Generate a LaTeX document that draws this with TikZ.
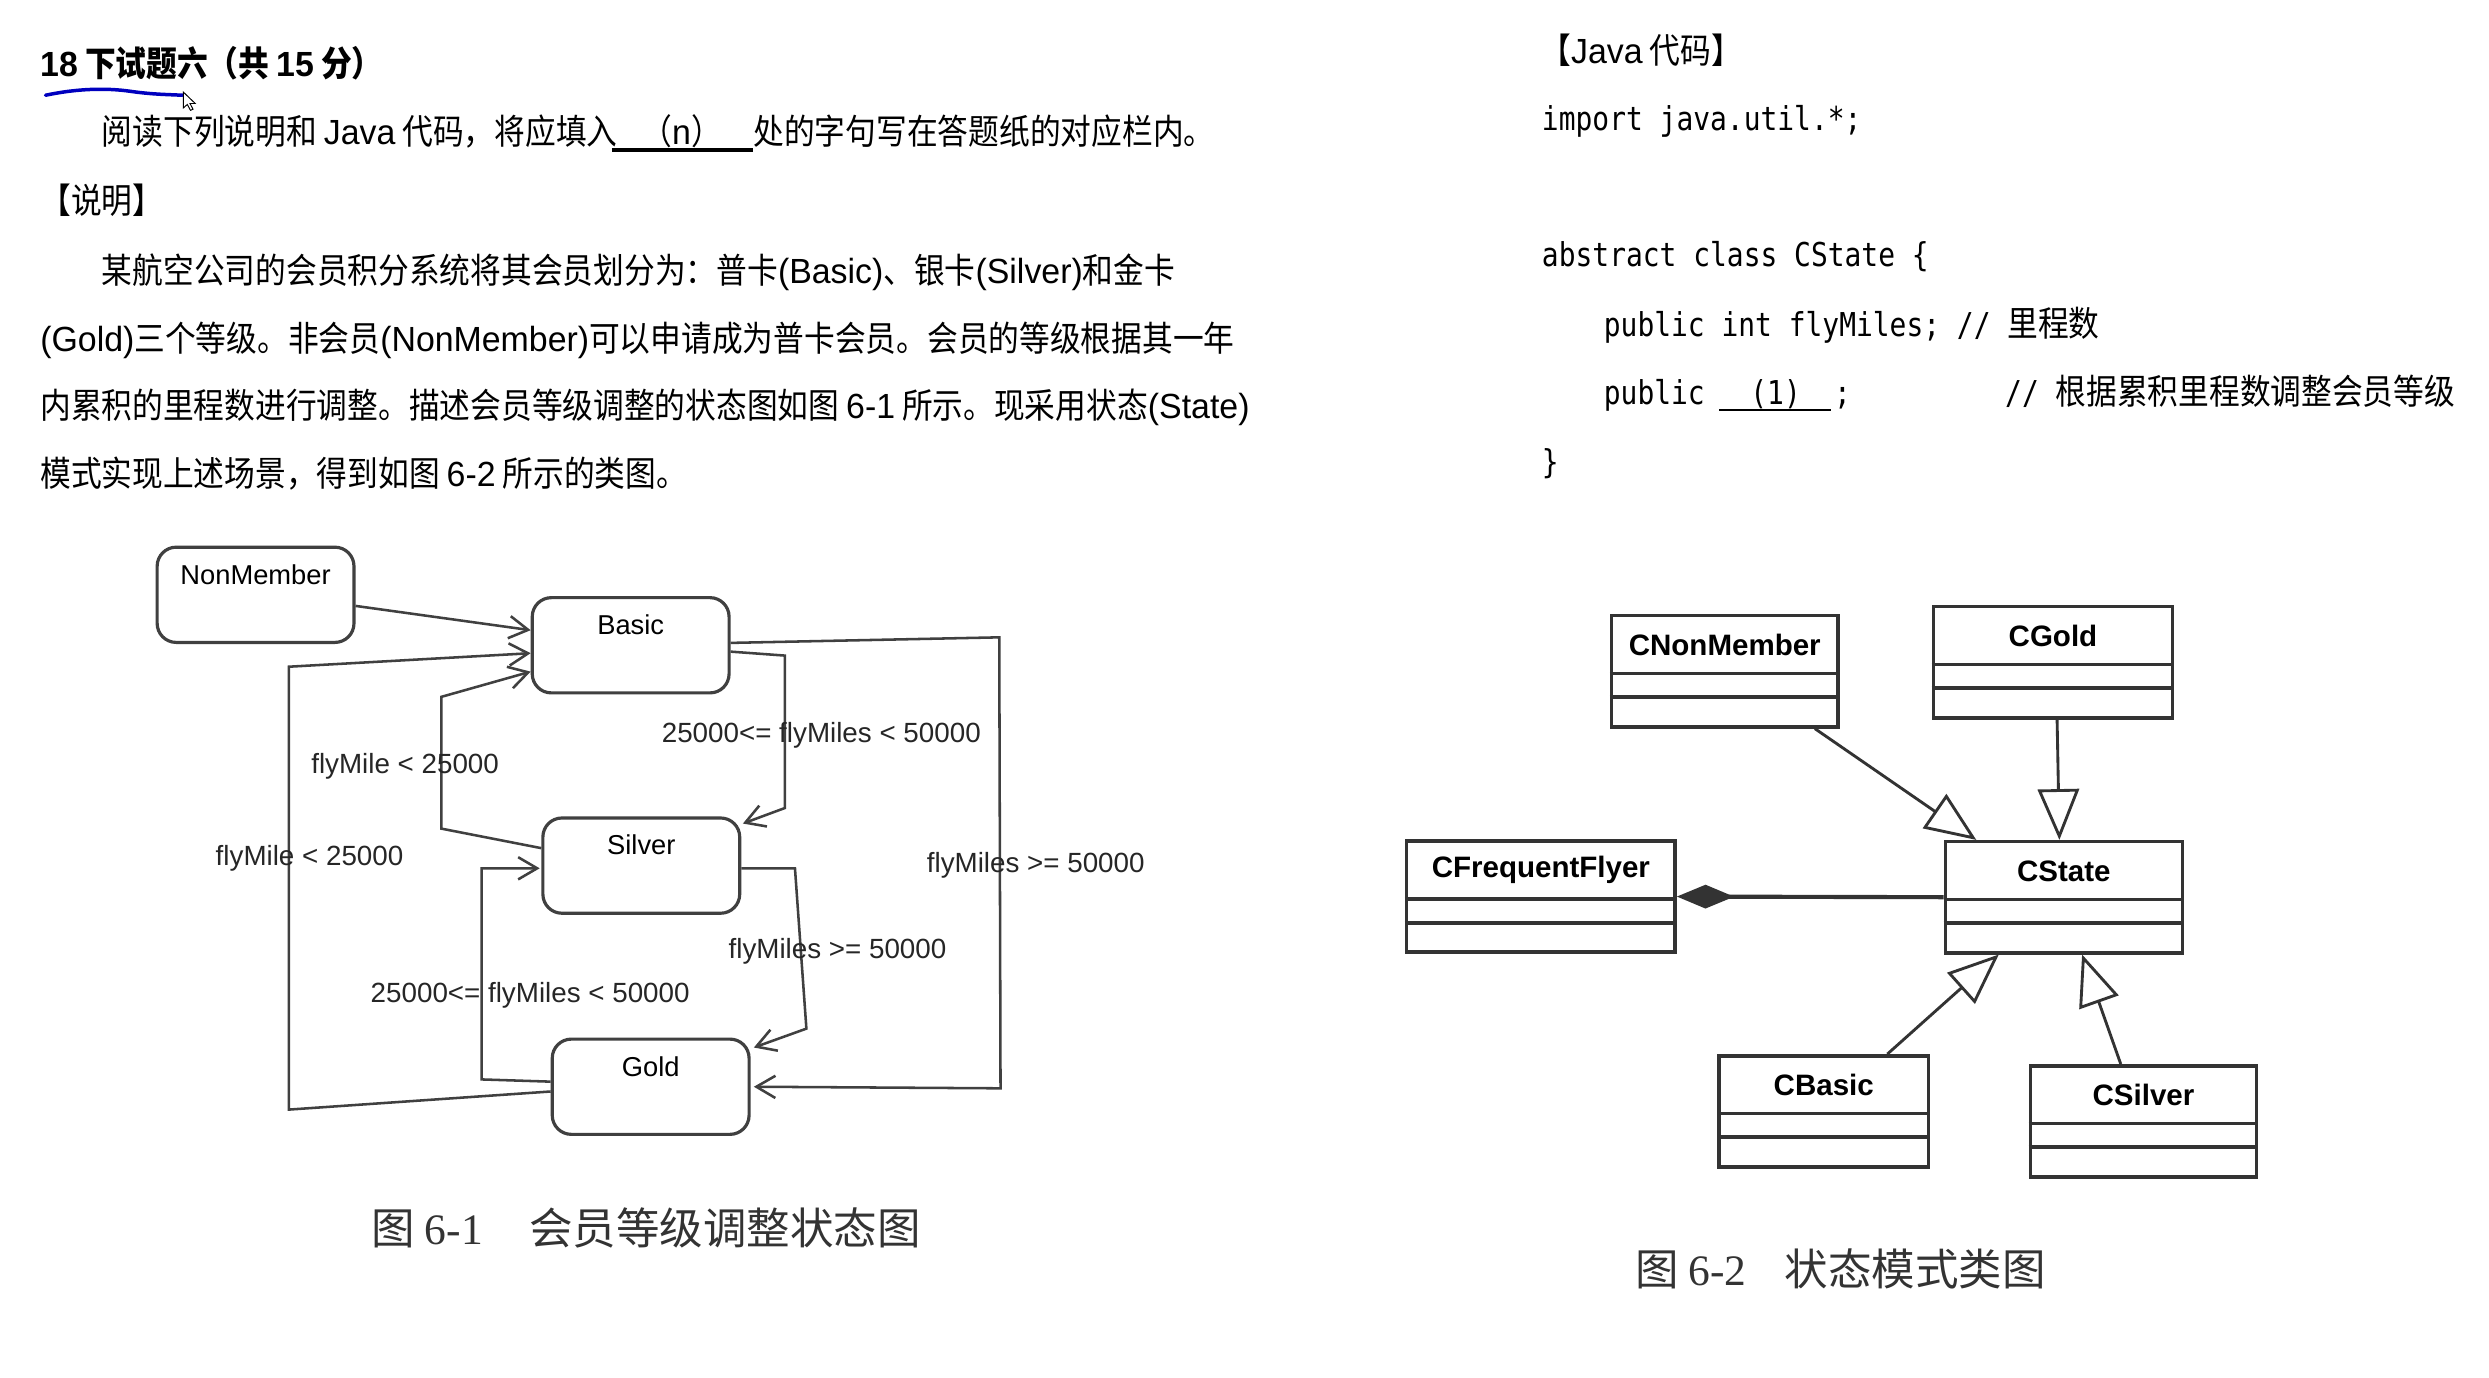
\documentclass[tikz,border=0pt]{standalone}
\usepackage{fontspec}
\newfontfamily\cjk[FakeStretch=0.88]{Noto Sans CJK SC}
\newfontfamily\cjkcap{Noto Sans CJK SC}
\newfontfamily\lat[FakeStretch=0.97]{Liberation Sans}
\newfontfamily\capserif{Liberation Serif}
\newfontfamily\code[FakeStretch=0.85]{DejaVu Sans Mono}
\newfontfamily\umlfont{Liberation Sans}
\usetikzlibrary{calc,arrows.meta,positioning}
\def\bodysize{\fontsize{11pt}{13pt}\selectfont}
\newcommand{\umlclass}[4]{%
	\node[classbox, minimum width=#3] (#1) at (#2) {};
	\draw[classline] ($(#1.north west)+(0,37.5)$) -- ($(#1.north east)+(0,37.5)$);
	\draw[classline] ($(#1.north west)+(0,52.5)$) -- ($(#1.north east)+(0,52.5)$);
	\node[classname] (#1-title) at ($(#1.north)+(0,19.5)$) {#4};
}
\tikzset{
	txt/.style={anchor=base west, inner sep=0, font=\cjk\bodysize},
	codetxt/.style={anchor=base west, inner sep=0, font=\code\fontsize{10.35pt}{12pt}\selectfont},
	state/.style={draw=black!75, line width=1pt, rounded corners=6pt, minimum width=62pt, minimum height=30pt, inner sep=0},
	statename/.style={anchor=north, inner sep=0, yshift=-5.7pt, font=\umlfont\fontsize{8.6pt}{10pt}\selectfont},
	slabel/.style={inner sep=0, text=black!85, font=\umlfont\fontsize{8.75pt}{10pt}\selectfont},
	trans/.style={draw=black!75, line width=0.8pt, -{Straight Barb[length=6pt,width=7pt]}},
	classbox/.style={draw=black!80, line width=1.1pt, anchor=north west, minimum height=35pt, inner sep=0},
	classline/.style={draw=black!80, line width=1.2pt},
	classname/.style={inner sep=0, font=\umlfont\bfseries\fontsize{9.3pt}{11pt}\selectfont},
	inherit/.style={draw=black!80, line width=0.9pt, -{Triangle[open,length=16pt,width=13pt]}},
	compose/.style={draw=black!80, line width=1.3pt, {Diamond[length=18pt,width=7.5pt]}-},
	caption/.style={anchor=base west, inner sep=0, text=black!80, font=\cjkcap\fontsize{13.7pt}{16pt}\selectfont}
}
\begin{document}
\begin{tikzpicture}[x=0.5pt,y=-0.5pt]
			%%%%% START %%%%%
			\fill[white] (0,0) rectangle (1568,868);
			\useasboundingbox (0,0) rectangle (1568,868);
			
			\node[txt, font=\cjk\bfseries\bodysize] (title) at (25,48.3) {{\lat 18} 下试题六（共 {\lat 15} 分）};
			\draw[blue!75!black, line width=1.1pt, line cap=round] (28.7,60) .. controls (50,55.5) and (68,55.5) .. (82,57.5) .. controls (96,59.5) and (105,59.5) .. (115,60);
			\draw[fill=white, line width=0.3pt] (115.5,58) -- (115.5,68) -- (118,65.8) -- (120,69.5) -- (121.6,68.8) -- (119.7,65.2) -- (123,65.2) -- cycle;
			
			\node[txt] (intro) at (63.8,91.3) {阅读下列说明和 {\lat Java} 代码，将应填入};
			\node[txt, anchor=base] (blank) at (429.4,91.3) {（{\lat n}）};
			\node[txt] (intro2) at (474.3,91.3) {处的字句写在答题纸的对应栏内。};
			\draw[line width=1pt] (385.5,94.5) -- (474.3,94.5);
			
			\node[txt] (explain) at (25,134.4) {【说明】};
			\node[txt] (para1) at (63.8,178.5) {某航空公司的会员积分系统将其会员划分为：普卡{\lat (Basic)}、银卡{\lat (Silver)}和金卡};
			\node[txt] (para2) at (25,221.5) {{\lat (Gold)}三个等级。非会员{\lat (NonMember)}可以申请成为普卡会员。会员的等级根据其一年};
			\node[txt] (para3) at (25,263.5) {内累积的里程数进行调整。描述会员等级调整的状态图如图 {\lat 6-1} 所示。现采用状态{\lat (State)}};
			\node[txt] (para4) at (25,306.6) {模式实现上述场景，得到如图 {\lat 6-2} 所示的类图。};
			
			\node[txt] (javahead) at (970,40) {【{\lat Java} 代码】};
			\node[codetxt] (import) at (971,82) {import java.util.*;};
			\node[codetxt] (absclass) at (971,168) {abstract class CState \{};
			\node[codetxt] (field) at (1010,212) {public int flyMiles; // {\cjk\bodysize 里程数}};
			\node[codetxt] (method) at (1010,255) {public};
			\node[codetxt, anchor=base] (gap1) at (1118.6,255) {(1)};
			\node[codetxt] (semi) at (1155,255) {;};
			\draw[line width=0.9pt] (1083.2,258.3) -- (1153.5,258.3);
			\node[codetxt] (comment) at (1262.8,255) {// {\cjk\bodysize 根据累积里程数调整会员等级}};
			\node[codetxt] (closing) at (971,298) {\}};
			
			\node[state] (nonmember) at (161,374.7) {};
			\node[statename] (nonmember-t) at (nonmember.north) {NonMember};
			\node[state] (basic) at (397.3,406.5) {};
			\node[statename] (basic-t) at (basic.north) {Basic};
			\node[state] (silver) at (404,545.3) {};
			\node[statename] (silver-t) at (silver.north) {Silver};
			\node[state] (gold) at (409.9,684.6) {};
			\node[statename] (gold-t) at (gold.north) {Gold};
			
			\draw[trans] ($(nonmember.east)+(0,7)$) -- ($(basic.west)+(0,-9.5)$);
			\draw[trans] ($(gold.west)+(0,3)$) -- (182,699) -- (182,420) -- ($(basic.west)+(0,5)$);
			\draw[trans] ($(silver.west)+(0,-11)$) -- (278,522) -- (278,439) -- ($(basic.west)+(0,16.6)$);
			\draw[trans] ($(basic.east)+(0,4)$) -- (494.5,413) -- (494.5,509) -- ($(silver.north east)+(1,4.5)$);
			\draw[trans] ($(basic.east)+(0,-1.5)$) -- (629.5,401.5) -- (630.3,685.6) -- ($(gold.east)+(2,0)$);
			\draw[trans] ($(silver.east)+(0,1.7)$) -- (500.8,547) -- (508,648) -- ($(gold.north east)+(2,6.3)$);
			\draw[trans] ($(gold.west)+(0,-3.2)$) -- (303.4,680) -- (303.4,547) -- ($(silver.west)+(-1,1.7)$);
			
			\node[slabel] (lab-sb) at (255.2,483) {flyMile < 25000};
			\node[slabel] (lab-gb) at (195,540.7) {flyMile < 25000};
			\node[slabel] (lab-bs) at (517.4,463) {25000<= flyMiles < 50000};
			\node[slabel] (lab-bg) at (652.5,545) {flyMiles >= 50000};
			\node[slabel] (lab-sg) at (527.6,599.5) {flyMiles >= 50000};
			\node[slabel] (lab-gs) at (334,626.8) {25000<= flyMiles < 50000};
			
			\node[caption] (cap1a) at (233.7,784) {图 {\capserif 6-1}};
			\node[caption] (cap1b) at (333,784) {会员等级调整状态图};
			
			\umlclass{cnonmember}{1014.2,386.8}{71.25pt}{CNonMember}
			\umlclass{cgold}{1216.9,381.1}{75.3pt}{CGold}
			\umlclass{cfreq}{885,528.7}{84.6pt}{CFrequentFlyer}
			\umlclass{cstate}{1224.4,529.1}{74.65pt}{CState}
			\umlclass{cbasic}{1081.9,664}{65.9pt}{CBasic}
			\umlclass{csilver}{1277.9,670.3}{71.3pt}{CSilver}
			
			\draw[inherit] ($(cnonmember.south east)+(-15.6,0)$) -- ($(cstate.north west)+(20.6,0)$);
			\draw[inherit] ($(cgold.south)+(2.6,0)$) -- ($(cstate.north)+(-2.8,0)$);
			\draw[compose] (cfreq.east) -- (cstate.west);
			\draw[inherit] ($(cbasic.north)+(40.1,0)$) -- ($(cstate.south west)+(34.8,0)$);
			\draw[inherit] ($(csilver.north)+(-14.3,0)$) -- ($(cstate.south)+(11.5,0)$);
			
			\node[caption] (cap2a) at (1029.7,810) {图 {\capserif 6-2}};
			\node[caption] (cap2b) at (1124,810) {状态模式类图};
			%%%%% END %%%%%
\end{tikzpicture}
\end{document}
